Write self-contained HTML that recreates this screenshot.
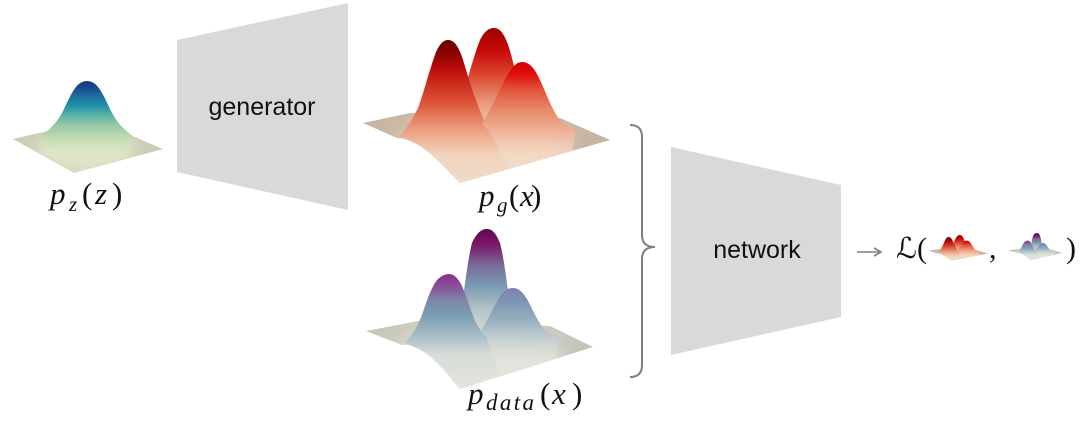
<!DOCTYPE html>
<html>
<head>
<meta charset="utf-8">
<style>
  html, body { margin:0; padding:0; background:#ffffff; }
  body { width:1080px; height:430px; overflow:hidden; }
  svg { display:block; }
  .lbl { font-family: "Liberation Sans", sans-serif; fill:#111; }
  .m { font-family: "Liberation Serif", serif; fill:#111; }
  .mi { font-family: "Liberation Serif", serif; font-style:italic; fill:#111; }
</style>
</head>
<body>
<svg width="1080" height="430" viewBox="0 0 1080 430" xmlns="http://www.w3.org/2000/svg">
  <defs>
    <filter id="blur8" x="-60%" y="-150%" width="220%" height="400%">
      <feGaussianBlur stdDeviation="8"/>
    </filter>
    <filter id="blur6" x="-60%" y="-150%" width="220%" height="400%">
      <feGaussianBlur stdDeviation="6"/>
    </filter>

    <clipPath id="zClip"><path d="M13,139 L48,131 L123,132 L163,149 L74,173 Z"/></clipPath>
    <clipPath id="gClip"><path d="M363,123 L410,113 L470,114 L560,118 L610,140 L460,183 C452,175 440,162 428,152 C418,144 406,138 397,138 Z"/></clipPath>
    <clipPath id="dClip"><path d="M366,331 L418,321 L470,322 L550,326 L593,347 L460,389 C452,380 440,364 428,355 C418,348 410,344 402,345 Z"/></clipPath>

    <!-- p_z gradients -->
    <linearGradient id="zPlane" x1="0" y1="0" x2="1" y2="0">
      <stop offset="0" stop-color="#c9cab4"/>
      <stop offset="0.5" stop-color="#d6dabf"/>
      <stop offset="1" stop-color="#c8c9b4"/>
    </linearGradient>
    <linearGradient id="zPeak" x1="0" y1="0" x2="0" y2="1">
      <stop offset="0" stop-color="#173a7e"/>
      <stop offset="0.08" stop-color="#1a4a8c"/>
      <stop offset="0.16" stop-color="#1d6a9e"/>
      <stop offset="0.28" stop-color="#2090a8"/>
      <stop offset="0.39" stop-color="#58b0a8"/>
      <stop offset="0.51" stop-color="#98c8a4"/>
      <stop offset="0.66" stop-color="#c4dcb2"/>
      <stop offset="0.8" stop-color="#dae4c2" stop-opacity="0.8"/>
      <stop offset="1" stop-color="#e0e6c8" stop-opacity="0"/>
    </linearGradient>

    <!-- p_g gradients -->
    <linearGradient id="gPlane" x1="0" y1="0" x2="1" y2="0">
      <stop offset="0" stop-color="#c4b39f"/>
      <stop offset="0.5" stop-color="#d8c5b1"/>
      <stop offset="1" stop-color="#c2b19e"/>
    </linearGradient>
    <linearGradient id="gP2" x1="0" y1="0" x2="0" y2="1">
      <stop offset="0" stop-color="#a00000"/>
      <stop offset="0.2" stop-color="#c40808"/>
      <stop offset="0.45" stop-color="#dc4a30"/>
      <stop offset="0.7" stop-color="#e89a7c"/>
      <stop offset="0.9" stop-color="#eec4aa"/>
      <stop offset="1" stop-color="#f0d0bc"/>
    </linearGradient>
    <linearGradient id="gP1" x1="0" y1="0" x2="0" y2="1">
      <stop offset="0" stop-color="#6a0000"/>
      <stop offset="0.1" stop-color="#8e0202"/>
      <stop offset="0.21" stop-color="#bd0e0e"/>
      <stop offset="0.42" stop-color="#db4e32"/>
      <stop offset="0.63" stop-color="#eaa080"/>
      <stop offset="0.8" stop-color="#f2d2bc"/>
      <stop offset="1" stop-color="#f0dcc8"/>
    </linearGradient>
    <linearGradient id="gP3" x1="0" y1="0" x2="0" y2="1">
      <stop offset="0" stop-color="#d40000"/>
      <stop offset="0.12" stop-color="#e01010"/>
      <stop offset="0.26" stop-color="#e2533a"/>
      <stop offset="0.45" stop-color="#e8886a"/>
      <stop offset="0.64" stop-color="#eeb096"/>
      <stop offset="0.83" stop-color="#f2d2bc" stop-opacity="0.8"/>
      <stop offset="1" stop-color="#f2dcc8" stop-opacity="0"/>
    </linearGradient>

    <!-- p_data gradients -->
    <linearGradient id="dPlane" x1="0" y1="0" x2="1" y2="0">
      <stop offset="0" stop-color="#c4c4b7"/>
      <stop offset="0.5" stop-color="#d4d4ca"/>
      <stop offset="1" stop-color="#c2c2b6"/>
    </linearGradient>
    <linearGradient id="dB" x1="0" y1="0" x2="0" y2="1">
      <stop offset="0" stop-color="#600550"/>
      <stop offset="0.15" stop-color="#7a1a6a"/>
      <stop offset="0.33" stop-color="#7a6a98"/>
      <stop offset="0.51" stop-color="#7898b0"/>
      <stop offset="0.74" stop-color="#b4c4c8"/>
      <stop offset="1" stop-color="#dcdfd8"/>
    </linearGradient>
    <linearGradient id="dA" x1="0" y1="0" x2="0" y2="1">
      <stop offset="0" stop-color="#8a2e8a"/>
      <stop offset="0.1" stop-color="#8a4e96"/>
      <stop offset="0.23" stop-color="#7e86aa"/>
      <stop offset="0.36" stop-color="#7a9cb2"/>
      <stop offset="0.53" stop-color="#a8bcc4"/>
      <stop offset="0.7" stop-color="#d6dcd8"/>
      <stop offset="1" stop-color="#e4e5de"/>
    </linearGradient>
    <linearGradient id="dC" x1="0" y1="0" x2="0" y2="1">
      <stop offset="0" stop-color="#8080b0"/>
      <stop offset="0.15" stop-color="#7c96b4"/>
      <stop offset="0.35" stop-color="#94aebe"/>
      <stop offset="0.55" stop-color="#c0ccce"/>
      <stop offset="0.75" stop-color="#dcdfd8" stop-opacity="0.85"/>
      <stop offset="1" stop-color="#e4e5de" stop-opacity="0"/>
    </linearGradient>

    <g id="pg">
      <g clip-path="url(#gClip)">
        <rect x="360" y="110" width="255" height="80" fill="url(#gPlane)"/>
        <ellipse cx="482" cy="152" rx="88" ry="30" fill="#f2dcc8" filter="url(#blur8)"/>
      </g>
      <path d="M452,135 C462,100 472,60 480,40 C485,30 490,28 494,28 C499,28 503,32 507,42 C514,60 520,95 530,135 Z" fill="url(#gP2)"/>
      <path d="M397,138 C405,132 412,120 418,108 C424,92 430,68 436,52 C440,43 444,40 448,40 C453,40 457,44 461,54 C466,68 470,85 476,100 C481,114 486,126 492,136 L510,168 L460,183 C452,174 440,160 428,151 C418,143 406,137 397,138 Z" fill="url(#gP1)"/>
      <path d="M482,124 C490,112 497,95 505,80 C511,68 516,62 522,62 C528,62 533,66 538,76 C545,90 550,105 557,116 C562,124 568,128 576,130 L572,151 L510,168 L492,136 C489,131 486,128 482,124 Z" fill="url(#gP3)"/>
    </g>

    <g id="pd">
      <g clip-path="url(#dClip)">
        <rect x="360" y="315" width="240" height="80" fill="url(#dPlane)"/>
        <ellipse cx="476" cy="358" rx="85" ry="28" fill="#e4e5de" filter="url(#blur8)"/>
      </g>
      <path d="M458,338 C463,300 467,262 472,243 C477,232 482,229 487,229 C492,229 496,233 500,243 C505,262 509,300 514,338 Z" fill="url(#dB)"/>
      <path d="M404,343 C412,336 418,326 423,312 C427,300 431,288 437,280 C441,276 445,274 449,274 C454,274 458,278 462,286 C466,295 469,305 473,316 C476,324 480,330 486,336 L500,376 L460,389 C452,378 440,362 428,354 C418,348 410,344 404,343 Z" fill="url(#dA)"/>
      <path d="M481,330 C488,320 494,306 500,296 C504,290 508,288 513,288 C518,288 522,291 527,299 C531,306 535,316 541,325 C545,331 550,334 558,336 L556,358 L500,376 L486,336 C484,333 483,332 481,330 Z" fill="url(#dC)"/>
    </g>
  </defs>

  <!-- p_z surface -->
  <g clip-path="url(#zClip)">
    <rect x="10" y="128" width="160" height="50" fill="url(#zPlane)"/>
    <ellipse cx="85" cy="150" rx="48" ry="18" fill="#e0e6c8" filter="url(#blur6)"/>
  </g>
  <path d="M40,136 C50,130 57,122 62,113 C67,103 71,93 76,87 C79,83 83,81 87,81 C91,81 95,83 98,87 C103,93 107,103 112,113 C117,122 124,130 134,137 C125,150 110,160 80,168 C60,160 48,150 40,136 Z" fill="url(#zPeak)"/>

  <!-- p_z label -->
  <text class="mi" x="50" y="204" font-size="31">p</text>
  <text class="mi" x="69" y="211" font-size="21">z</text>
  <text class="m" x="82" y="204" font-size="31">(</text>
  <text class="mi" x="95" y="204" font-size="31">z</text>
  <text class="m" x="112" y="204" font-size="31">)</text>

  <!-- generator trapezoid -->
  <polygon points="177,40 348,3 348,210 177,172" fill="#d9d9d9"/>
  <text class="lbl" x="262" y="115" font-size="25" text-anchor="middle">generator</text>

  <!-- p_g surface -->
  <use href="#pg"/>
  <text class="mi" x="479" y="206" font-size="31">p</text>
  <text class="mi" x="497" y="212" font-size="21">g</text>
  <text class="m" x="509" y="206" font-size="31">(</text>
  <text class="mi" x="520" y="206" font-size="31">x</text>
  <text class="m" x="531" y="206" font-size="31">)</text>

  <!-- p_data surface -->
  <use href="#pd"/>
  <text class="mi" x="468" y="404" font-size="31">p</text>
  <text class="mi" x="486" y="410" font-size="23" textLength="48" lengthAdjust="spacing">data</text>
  <text class="m" x="540" y="404" font-size="31">(</text>
  <text class="mi" x="552" y="404" font-size="31">x</text>
  <text class="m" x="572" y="404" font-size="31">)</text>

  <!-- brace -->
  <path d="M630,125 Q642,125 642,137 L642,235 Q642,247 655,247 Q642,247 642,259 L642,365 Q642,377 630,377" fill="none" stroke="#7f7f7f" stroke-width="2"/>

  <!-- network trapezoid -->
  <polygon points="671,147 841,185 841,317 671,355" fill="#d9d9d9"/>
  <text class="lbl" x="757" y="258" font-size="25" text-anchor="middle">network</text>

  <!-- arrow -->
  <line x1="857" y1="252" x2="880" y2="252" stroke="#808080" stroke-width="1.6"/>
  <path d="M874,248 L881,252 L874,256" fill="none" stroke="#808080" stroke-width="1.6"/>

  <!-- loss -->
  <text x="896" y="258" font-size="29" font-family="'DejaVu Serif', 'Liberation Serif', serif" fill="#111">ℒ</text>
  <text class="m" x="917" y="258" font-size="30">(</text>
  <g transform="translate(928,235) scale(0.243,0.165) translate(-363,-28)">
    <use href="#pg"/>
  </g>
  <text class="m" x="989" y="258" font-size="30">,</text>
  <g transform="translate(1008,233) scale(0.238,0.17) translate(-366,-229)">
    <use href="#pd"/>
  </g>
  <text class="m" x="1066" y="258" font-size="30">)</text>
</svg>
</body>
</html>
